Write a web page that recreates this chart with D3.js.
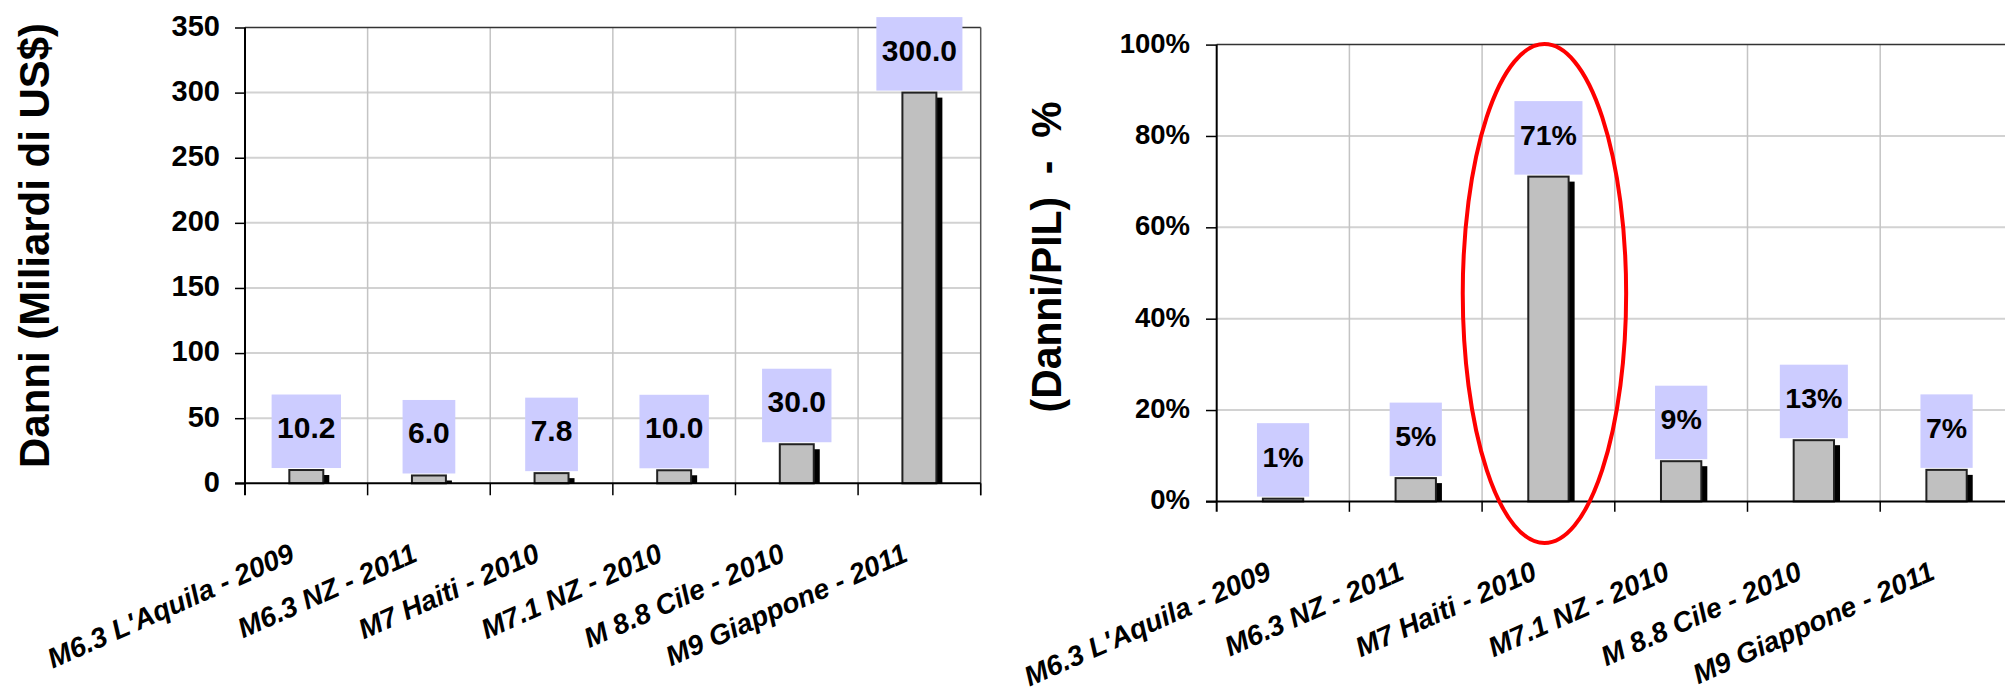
<!DOCTYPE html>
<html>
<head>
<meta charset="utf-8">
<script src="https://cdn.jsdelivr.net/npm/d3@7"></script>
<style>
  html, body { margin: 0; padding: 0; background: #fff; }
  svg { display: block; font-family: "Liberation Sans", Arial, sans-serif; }
</style>
</head>
<body>
<svg id="chart" width="2005" height="695"></svg>
<script>
// ---- data ----
const categories = [
  "M6.3 L'Aquila - 2009",
  "M6.3 NZ - 2011",
  "M7 Haiti - 2010",
  "M7.1 NZ - 2010",
  "M 8.8 Cile - 2010",
  "M9 Giappone - 2011"
];
const damages = [10.2, 6.0, 7.8, 10.0, 30.0, 300.0];           // miliardi US$
const damagesGdp = [0.006, 0.051, 0.711, 0.088, 0.134, 0.069];  // danni / PIL
const leftTicks = [0, 50, 100, 150, 200, 250, 300, 350];
const rightTicks = [0, 0.2, 0.4, 0.6, 0.8, 1.0];
const leftTitle = "Danni (Miliardi di US$)";
const rightTitle = "(Danni/PIL)  -  %";
const highlighted = "M7 Haiti - 2010";

const FONT = "Liberation Sans";
const svg = d3.select("#chart");

function drawPanel(cfg) {
  const g = svg.append("g");
  const x = d3.scaleBand().domain(categories).range([cfg.x0, cfg.x1]).padding(0);
  const y = d3.scaleLinear().domain(cfg.domain).range([cfg.y0, cfg.y1]);
  const bw = x.bandwidth();
  const barW = bw * cfg.barFrac;

  // horizontal gridlines
  g.append("g").selectAll("line").data(cfg.ticks.filter(t => t > 0 && t < cfg.domain[1]))
    .join("line")
    .attr("x1", cfg.x0).attr("x2", cfg.x1)
    .attr("y1", d => y(d)).attr("y2", d => y(d))
    .attr("stroke", "#d2d2d2").attr("stroke-width", 2);

  // vertical gridlines at category boundaries
  g.append("g").selectAll("line").data(categories.slice(1))
    .join("line")
    .attr("x1", d => x(d)).attr("x2", d => x(d))
    .attr("y1", cfg.y1).attr("y2", cfg.y0)
    .attr("stroke", "#c4c4c4").attr("stroke-width", 1.5);

  // top & right border
  g.append("line").attr("x1", cfg.x0).attr("x2", cfg.x1)
    .attr("y1", y(cfg.domain[1])).attr("y2", y(cfg.domain[1]))
    .attr("stroke", "#333").attr("stroke-width", 1.5);
  g.append("line").attr("x1", cfg.x1).attr("x2", cfg.x1)
    .attr("y1", cfg.y1).attr("y2", cfg.y0 + cfg.catTick)
    .attr("stroke", "#555").attr("stroke-width", 1.5);

  // y axis
  const yAxis = d3.axisLeft(y).tickValues(cfg.ticks).tickFormat(cfg.tickFmt)
    .tickSize(cfg.tickLen).tickPadding(cfg.tickPad);
  const ya = g.append("g").attr("transform", `translate(${cfg.x0},0)`).call(yAxis);
  ya.select(".domain").remove();
  ya.selectAll(".tick line").attr("stroke", "#000").attr("stroke-width", 1.5);
  ya.selectAll(".tick text")
    .attr("font-family", FONT).attr("font-weight", "bold")
    .attr("font-size", cfg.tickFont).attr("fill", "#000").attr("dy", "0.27em");
  g.append("line").attr("x1", cfg.x0).attr("x2", cfg.x0)
    .attr("y1", cfg.y1).attr("y2", cfg.y0 + cfg.catTick)
    .attr("stroke", "#000").attr("stroke-width", 2);

  // bars: shadow + bar
  const data = categories.map((c, i) => ({ c, v: cfg.values[i] }));
  const bars = g.append("g");
  bars.selectAll("rect.shadow").data(data).join("rect").attr("class", "shadow")
    .attr("x", d => x(d.c) + (bw - barW) / 2 + 6)
    .attr("y", d => y(d.v) + 5)
    .attr("width", barW)
    .attr("height", d => Math.max(0, cfg.y0 - y(d.v) - 5))
    .attr("fill", "#000");
  bars.selectAll("rect.bar").data(data).join("rect").attr("class", "bar")
    .attr("x", d => x(d.c) + (bw - barW) / 2)
    .attr("y", d => y(d.v))
    .attr("width", barW)
    .attr("height", d => cfg.y0 - y(d.v))
    .attr("fill", "#c0c0c0").attr("stroke", "#222").attr("stroke-width", 2);

  // x axis line and category ticks
  g.append("line").attr("x1", cfg.x0 - cfg.tickLen).attr("x2", cfg.x1)
    .attr("y1", cfg.y0).attr("y2", cfg.y0)
    .attr("stroke", "#000").attr("stroke-width", 2);
  g.append("g").selectAll("line").data(categories.slice(1).map(c => x(c)).concat([cfg.x1]))
    .join("line")
    .attr("x1", d => d).attr("x2", d => d)
    .attr("y1", cfg.y0).attr("y2", cfg.y0 + cfg.catTick)
    .attr("stroke", "#000").attr("stroke-width", 1.5);

  // category labels
  g.append("g").selectAll("text").data(categories).join("text")
    .attr("transform", d => `translate(${x(d) + bw / 2 - 10},${cfg.y0 + 77}) rotate(-24)`)
    .attr("text-anchor", "end")
    .attr("font-family", FONT).attr("font-weight", "bold").attr("font-style", "italic")
    .attr("font-size", 28).attr("fill", "#000")
    .text(d => d);

  // value labels with boxes
  const lab = g.append("g").selectAll("g").data(data).join("g");
  const boxH = 73.5;
  lab.append("rect").attr("class", "lbox").attr("fill", "#ccccff");
  lab.append("text")
    .attr("x", d => x(d.c) + bw / 2)
    .attr("y", d => y(d.v) - 2 - 30)
    .attr("text-anchor", "middle")
    .attr("font-family", FONT).attr("font-weight", "bold")
    .attr("font-size", cfg.labelFont).attr("fill", "#000")
    .text(d => cfg.labelFmt(d.v));
  lab.each(function (d) {
    const t = d3.select(this).select("text").node();
    const w = t.getComputedTextLength() + 11;
    d3.select(this).select("rect")
      .attr("x", x(d.c) + bw / 2 - w / 2)
      .attr("y", y(d.v) - 2 - boxH)
      .attr("width", w).attr("height", boxH);
  });

  // y title (fitted to the reference length)
  const title = svg.append("text")
    .attr("text-anchor", "middle")
    .attr("font-family", FONT).attr("font-weight", "bold")
    .attr("font-size", 42).attr("fill", "#000")
    .style("white-space", "pre")
    .text(cfg.title);
  const natural = title.node().getComputedTextLength();
  const sx = cfg.titleLen / natural;
  title.attr("transform", `translate(${cfg.titleX},${cfg.titleY}) rotate(-90) scale(${sx},1)`);

  return { x, y, bw };
}

drawPanel({
  x0: 245, x1: 980.7, y0: 483.3, y1: 27.5,
  domain: [0, 350], ticks: leftTicks, tickFmt: d3.format("d"),
  values: damages, labelFmt: d3.format(".1f"), labelFont: 30,
  barFrac: 0.277, tickLen: 10, tickPad: 15, tickFont: 29, catTick: 12,
  title: leftTitle, titleX: 49, titleY: 245.5, titleLen: 445
});

const right = drawPanel({
  x0: 1216.7, x1: 2012.9, y0: 501.4, y1: 44.6,
  domain: [0, 1], ticks: rightTicks, tickFmt: d3.format(".0%"),
  values: damagesGdp, labelFmt: d3.format(".0%"), labelFont: 28.5,
  barFrac: 0.304, tickLen: 10.7, tickPad: 16, tickFont: 27.5, catTick: 10.4,
  title: rightTitle, titleX: 1061, titleY: 257, titleLen: 311
});

// red ellipse highlighting Haiti
const topY = right.y(1) - 0.5;
const botY = right.y(0) + 41.6;
svg.append("ellipse")
  .attr("cx", right.x(highlighted) + right.bw / 2 - 4)
  .attr("cy", (topY + botY) / 2)
  .attr("rx", 81.7)
  .attr("ry", (botY - topY) / 2)
  .attr("fill", "none").attr("stroke", "#ff0000").attr("stroke-width", 4);
</script>
</body>
</html>
